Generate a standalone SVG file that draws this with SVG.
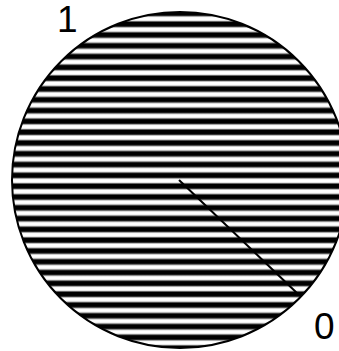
<svg xmlns="http://www.w3.org/2000/svg" width="339" height="351" viewBox="0 0 339 351">
  <defs>
    <linearGradient id="stripeGrad" x1="0" y1="0" x2="0" y2="1">
      <stop offset="0" stop-color="#000"/>
      <stop offset="0.38" stop-color="#000"/>
      <stop offset="0.47" stop-color="#888"/>
      <stop offset="0.55" stop-color="#fff"/>
      <stop offset="0.84" stop-color="#fff"/>
      <stop offset="0.93" stop-color="#999"/>
      <stop offset="1" stop-color="#000"/>
    </linearGradient>
    <pattern id="stripes" patternUnits="userSpaceOnUse" x="0" y="0.4" width="339" height="10.8">
      <rect x="0" y="0" width="339" height="10.8" fill="url(#stripeGrad)"/>
    </pattern>
  </defs>
  <g id="disc">
    <circle cx="180" cy="180" r="168" fill="url(#stripes)" stroke="#000" stroke-width="2"/>
  </g>
  <g id="connectors">
    <line x1="179" y1="180" x2="298" y2="294" stroke="#000" stroke-width="2"/>
  </g>
  <g id="label1">
    <text font-family="Liberation Sans" font-size="37" fill="#000" x="57" y="32">1</text>
  </g>
  <g id="label0">
    <text font-family="Liberation Sans" font-size="37" fill="#000" x="314" y="339">0</text>
  </g>
</svg>
